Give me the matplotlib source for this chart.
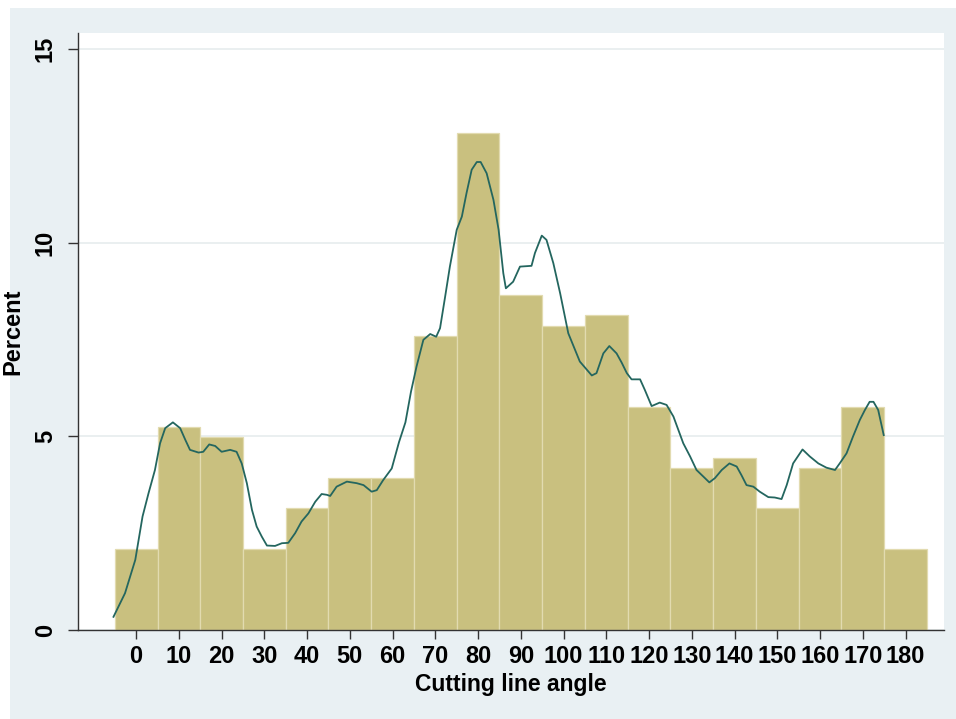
import numpy as np
import matplotlib
matplotlib.use("Agg")
import matplotlib.pyplot as plt
from matplotlib.patches import Rectangle

plt.rcParams['font.family'] = ['Liberation Sans', 'DejaVu Sans']
plt.rcParams['font.weight'] = 'bold'

# histogram bins (centres) and percent per bin
bin_centers = [0, 10, 20, 30, 40, 50, 60, 70, 80, 90, 100, 110, 120, 130, 140, 150, 160, 170, 180]
percent = [2.09, 5.24, 4.97, 2.09, 3.14, 3.93, 3.93, 7.59, 12.83, 8.64, 7.85, 8.12, 5.76,
           4.19, 4.45, 3.14, 4.19, 5.76, 2.09]

# kernel density overlay (percent scale)
kd_x = [-5.3, -2.6, -0.2, 1.5, 2.9, 4.4, 5.6, 6.8, 8.6, 10.3, 11.5, 12.6, 14.6, 15.7, 17.1,
        18.5, 20.0, 22.0, 23.5, 24.7, 25.9, 27.1, 28.2, 29.4, 30.6, 32.5, 34.1, 35.6, 37.2,
        38.7, 40.3, 41.9, 43.4, 44.6, 45.4, 46.9, 49.3, 51.6, 53.2, 55.1, 56.3, 57.8, 59.8,
        61.5, 63.0, 64.3, 65.6, 67.2, 68.8, 70.2, 71.1, 72.3, 73.4, 75.0, 76.2, 77.3, 78.5,
        79.7, 80.6, 82.0, 83.6, 84.8, 85.9, 86.5, 88.2, 89.8, 92.5, 93.3, 94.9, 96.0, 97.6,
        99.2, 101.1, 103.8, 106.6, 107.7, 109.3, 110.7, 112.4, 113.6, 114.8, 115.9, 117.9,
        119.0, 120.6, 122.5, 124.1, 125.7, 128.0, 129.6, 131.1, 132.7, 134.1, 135.4, 137.0,
        138.8, 140.5, 141.6, 142.8, 144.4, 145.9, 147.9, 149.4, 151.0, 152.2, 153.7, 155.9,
        157.6, 159.6, 161.5, 163.5, 164.6, 166.2, 167.7, 169.3, 170.5, 171.6, 172.5, 173.6,
        174.9]
kd_y = [0.34, 0.95, 1.81, 2.93, 3.53, 4.13, 4.82, 5.21, 5.36, 5.21, 4.91, 4.65, 4.58, 4.60, 4.79,
        4.75, 4.60, 4.65, 4.60, 4.30, 3.79, 3.10, 2.67, 2.41, 2.18, 2.17, 2.24, 2.25, 2.50,
        2.80, 3.01, 3.31, 3.51, 3.49, 3.46, 3.70, 3.83, 3.79, 3.74, 3.57, 3.61, 3.87, 4.17,
        4.85, 5.36, 6.15, 6.80, 7.49, 7.64, 7.57, 7.79, 8.61, 9.38, 10.33, 10.67, 11.28, 11.88,
        12.08, 12.08, 11.79, 11.10, 10.33, 9.21, 8.82, 8.99, 9.38, 9.40, 9.73, 10.18, 10.07, 9.47,
        8.69, 7.66, 6.93, 6.57, 6.63, 7.14, 7.33, 7.14, 6.90, 6.63, 6.47, 6.47,
        6.20, 5.78, 5.87, 5.81, 5.51, 4.82, 4.48, 4.13, 3.96, 3.81, 3.92, 4.13,
        4.30, 4.22, 4.00, 3.74, 3.70, 3.57, 3.43, 3.42, 3.38, 3.74, 4.30, 4.66,
        4.48, 4.30, 4.19, 4.13, 4.30, 4.56, 4.99, 5.42, 5.68, 5.89, 5.89, 5.68,
        5.03]

W, H = 956, 719
fig = plt.figure(figsize=(W / 100, H / 100), dpi=100, facecolor='white')
# stata-style light blue-grey outer region
fig.patches.append(Rectangle((10 / W, 0), 1 - 10 / W, (H - 8) / H,
                             transform=fig.transFigure, facecolor='#e9f0f3',
                             edgecolor='none', zorder=-10))

ax = fig.add_axes([78 / W, (H - 630) / H, (944 - 78) / W, (630 - 33) / H])
ax.set_facecolor('white')

ax.bar(bin_centers, percent, width=10, color='#c9c07f', edgecolor='#e2dbb0',
       linewidth=0.9, zorder=2)
ax.plot(kd_x, kd_y, color='#24665f', linewidth=1.3, zorder=3)

ax.set_xlim(-13.6, 189)
ax.set_ylim(0, 15.41)

ax.set_xticks(bin_centers)
ax.set_xticklabels([str(v) for v in bin_centers])
ax.set_yticks([0, 5, 10, 15])
ax.set_yticklabels(['0', '5', '10', '15'], rotation=90, va='center')

ax.yaxis.grid(True, color='#e6ecee', linewidth=1.2, zorder=1)
ax.set_axisbelow(True)

for s in ['top', 'right']:
    ax.spines[s].set_visible(False)
for s in ['left', 'bottom']:
    ax.spines[s].set_color('#333333')
    ax.spines[s].set_linewidth(1.0)

ax.tick_params(axis='x', length=6.5, width=1, color='#333333', pad=4,
               labelsize=17, labelcolor='black')
ax.tick_params(axis='y', length=7.2, width=1, color='#333333', pad=8,
               labelsize=17, labelcolor='black')

ax.set_xlabel('Cutting line angle', fontsize=16.5, fontweight='bold', labelpad=4)
ax.set_ylabel('Percent', fontsize=17, fontweight='bold', labelpad=7)

fig.savefig('out.png', dpi=100, facecolor='white')
